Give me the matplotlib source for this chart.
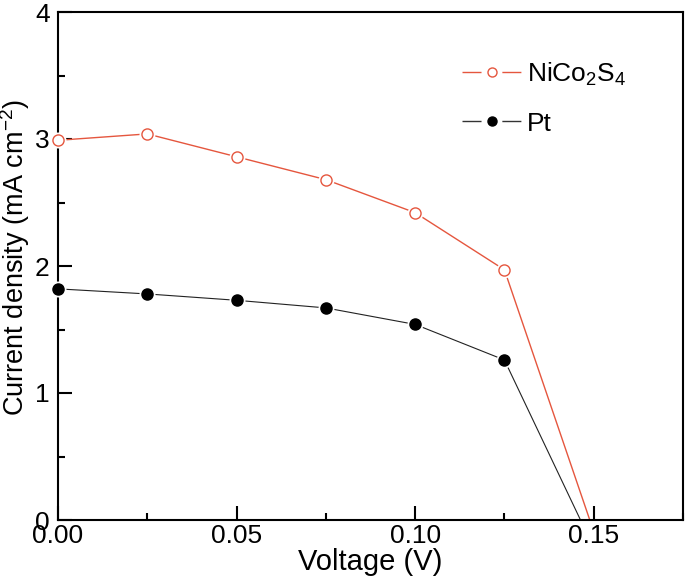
import matplotlib
matplotlib.use("Agg")
import matplotlib.pyplot as plt
from matplotlib.ticker import MultipleLocator, FormatStrFormatter
from matplotlib.lines import Line2D

plt.rcParams['font.family'] = ['Liberation Sans', 'DejaVu Sans']
plt.rcParams['mathtext.fontset'] = 'custom'
plt.rcParams['mathtext.rm'] = 'Liberation Sans'
plt.rcParams['mathtext.it'] = 'Liberation Sans'

voltage_nico = [0.0, 0.025, 0.05, 0.075, 0.10, 0.125, 0.1489]
current_nico = [2.99, 3.04, 2.86, 2.68, 2.42, 1.97, 0.0]
voltage_pt = [0.0, 0.025, 0.05, 0.075, 0.10, 0.125, 0.1463]
current_pt = [1.82, 1.78, 1.73, 1.67, 1.54, 1.26, 0.0]

red = '#E5563E'

fig = plt.figure(figsize=(6.85, 5.83), dpi=100)
ax = fig.add_axes([58/685, 1-520/583, (683-58)/685, (520-12)/583])

# lines
ax.plot(voltage_nico, current_nico, color=red, lw=1.0, zorder=2)
ax.plot(voltage_pt, current_pt, color='#222222', lw=0.8, zorder=2)
# white halo gaps around markers
ax.plot(voltage_nico[:-1], current_nico[:-1], ls='none', marker='o', ms=10.5,
        mfc='white', mec='white', zorder=3, clip_on=False)
ax.plot(voltage_pt[:-1], current_pt[:-1], ls='none', marker='o', ms=10.5,
        mfc='white', mec='white', zorder=3, clip_on=False)
# markers
ax.plot(voltage_nico[:-1], current_nico[:-1], ls='none', marker='o', ms=8,
        mfc='white', mec=red, mew=1.0, zorder=4, clip_on=False)
ax.plot(voltage_pt[:-1], current_pt[:-1], ls='none', marker='o', ms=8,
        mfc='black', mec='black', zorder=4, clip_on=False)

ax.set_xlim(0, 0.175)
ax.set_ylim(0, 4)
ax.xaxis.set_major_locator(MultipleLocator(0.05))
ax.xaxis.set_minor_locator(MultipleLocator(0.025))
ax.yaxis.set_major_locator(MultipleLocator(1))
ax.yaxis.set_minor_locator(MultipleLocator(0.5))
ax.xaxis.set_major_formatter(FormatStrFormatter('%.2f'))
ax.tick_params(which='both', direction='in', top=False, right=False, width=1.5)
ax.tick_params(which='major', length=10, labelsize=19)
ax.tick_params(axis='x', which='major', pad=3)
ax.tick_params(axis='y', which='major', pad=6)
ax.tick_params(which='minor', length=5)
for s in ax.spines.values():
    s.set_linewidth(1.5)

ax.set_xlabel('Voltage (V)', fontsize=21, labelpad=0)
ax.set_ylabel('Current density (mA cm$^{-2}$)', fontsize=19.5)
ax.yaxis.set_label_coords(-0.041, 0.516)

h_nico = Line2D([], [], color=red, lw=1.0, dashes=(13.7, 15), marker='o', ms=6.5,
                mfc='white', mec=red, mew=1.0)
h_pt = Line2D([], [], color='#333333', lw=1.0, dashes=(13.7, 15), marker='o', ms=6.5,
              mfc='black', mec='black')
ax.legend([h_nico, h_pt], ['NiCo$_2$S$_4$', 'Pt'], loc='upper left',
          bbox_to_anchor=(0.63, 0.925), frameon=False, fontsize=19,
          handlelength=2.24, handletextpad=0.2, labelspacing=0.9, borderaxespad=0)

fig.savefig('out.png', dpi=100)
